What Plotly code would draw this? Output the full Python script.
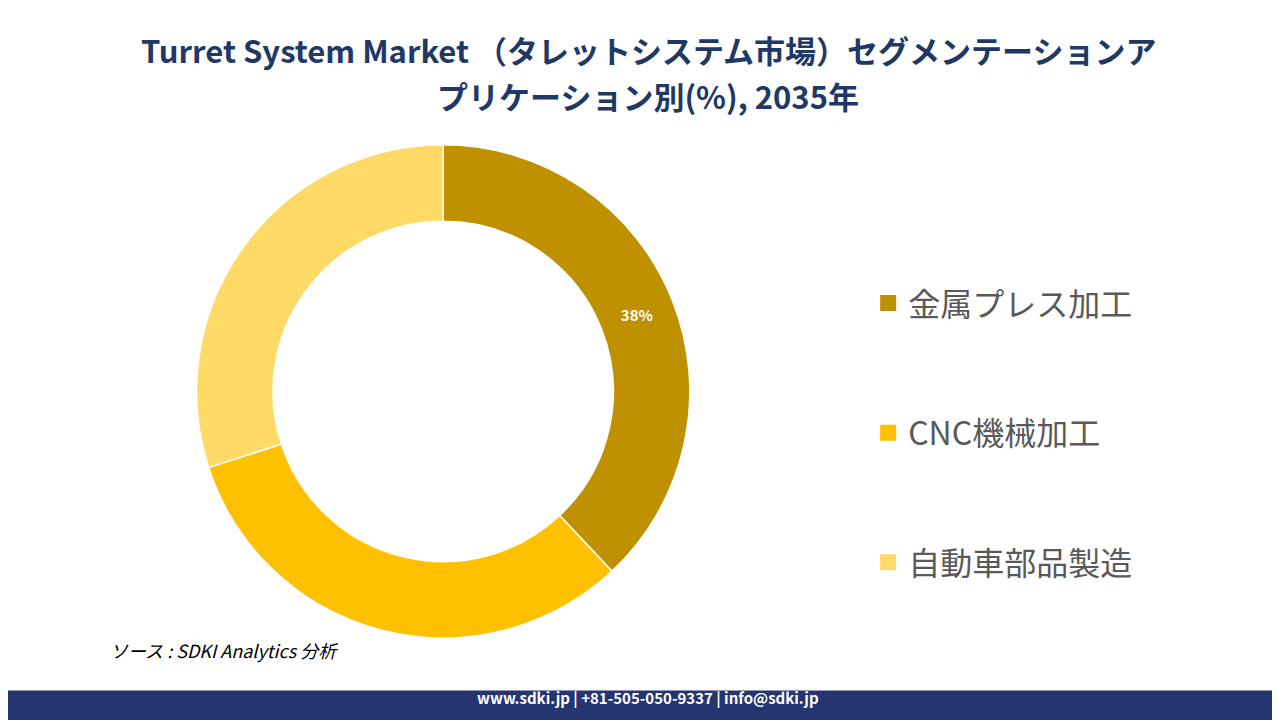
import plotly.graph_objects as go

labels = ["金属プレス加工", "CNC機械加工", "自動車部品製造"]
values = [38, 32, 30]
colors = ["#BF9000", "#FFC000", "#FFD966"]
text_labels = ["<b>38%</b>", "", ""]

fig = go.Figure()
fig.add_trace(go.Pie(
    labels=labels,
    values=values,
    hole=0.69,
    sort=False,
    direction="clockwise",
    rotation=0,
    showlegend=False,
    marker=dict(colors=colors, line=dict(color="white", width=1.5)),
    text=text_labels,
    textinfo="text",
    textposition="inside",
    insidetextorientation="horizontal",
    textfont=dict(color="white", size=15, family="Noto Sans CJK JP"),
    domain=dict(x=[0.1, 0.58], y=[0.125, 0.81]),
))

# legend entries with wide spacing
for name, col in zip(labels, colors):
    fig.add_trace(go.Scatter(
        x=[None], y=[None], mode="markers", name=name, legendgroup=name,
        marker=dict(symbol="square", size=20, color=col),
    ))

fig.update_layout(
    width=1280, height=720,
    paper_bgcolor="white", plot_bgcolor="white",
    margin=dict(l=0, r=0, t=0, b=0),
    xaxis=dict(visible=False), yaxis=dict(visible=False),
    legend=dict(
        x=0.672, y=0.41, xanchor="left", yanchor="middle",
        font=dict(size=32, color="#595959", family="Noto Sans CJK JP"),
        tracegroupgap=85,
    ),
    shapes=[dict(type="rect", xref="paper", yref="paper", x0=-0.02, x1=1.02, y0=-0.02, y1=0.052,
                 fillcolor="#253570", line=dict(width=0))],
    annotations=[
        dict(text="<b>Turret System Market （タレットシステム市場）セグメンテーションア</b>",
             x=0.5, y=0.977, xref="paper", yref="paper", showarrow=False,
             font=dict(size=31, color="#1F3864", family="Noto Sans CJK JP")),
        dict(text="<b>プリケーション別(%), 2035年</b>",
             x=0.5, y=0.913, xref="paper", yref="paper", showarrow=False,
             font=dict(size=31, color="#1F3864", family="Noto Sans CJK JP")),
        dict(text="<b>www.sdki.jp | +81-505-050-9337 | info@sdki.jp</b>", x=0.5, y=0.024,
             xref="paper", yref="paper", showarrow=False,
             font=dict(size=15, color="white", family="Noto Sans CJK JP")),
        dict(text="<i>ソース : SDKI Analytics 分析</i>", x=0.078, y=0.087, xanchor="left",
             xref="paper", yref="paper", showarrow=False,
             font=dict(size=18, color="black", family="Noto Sans CJK JP")),
    ],
)

fig.write_html("out.html")
